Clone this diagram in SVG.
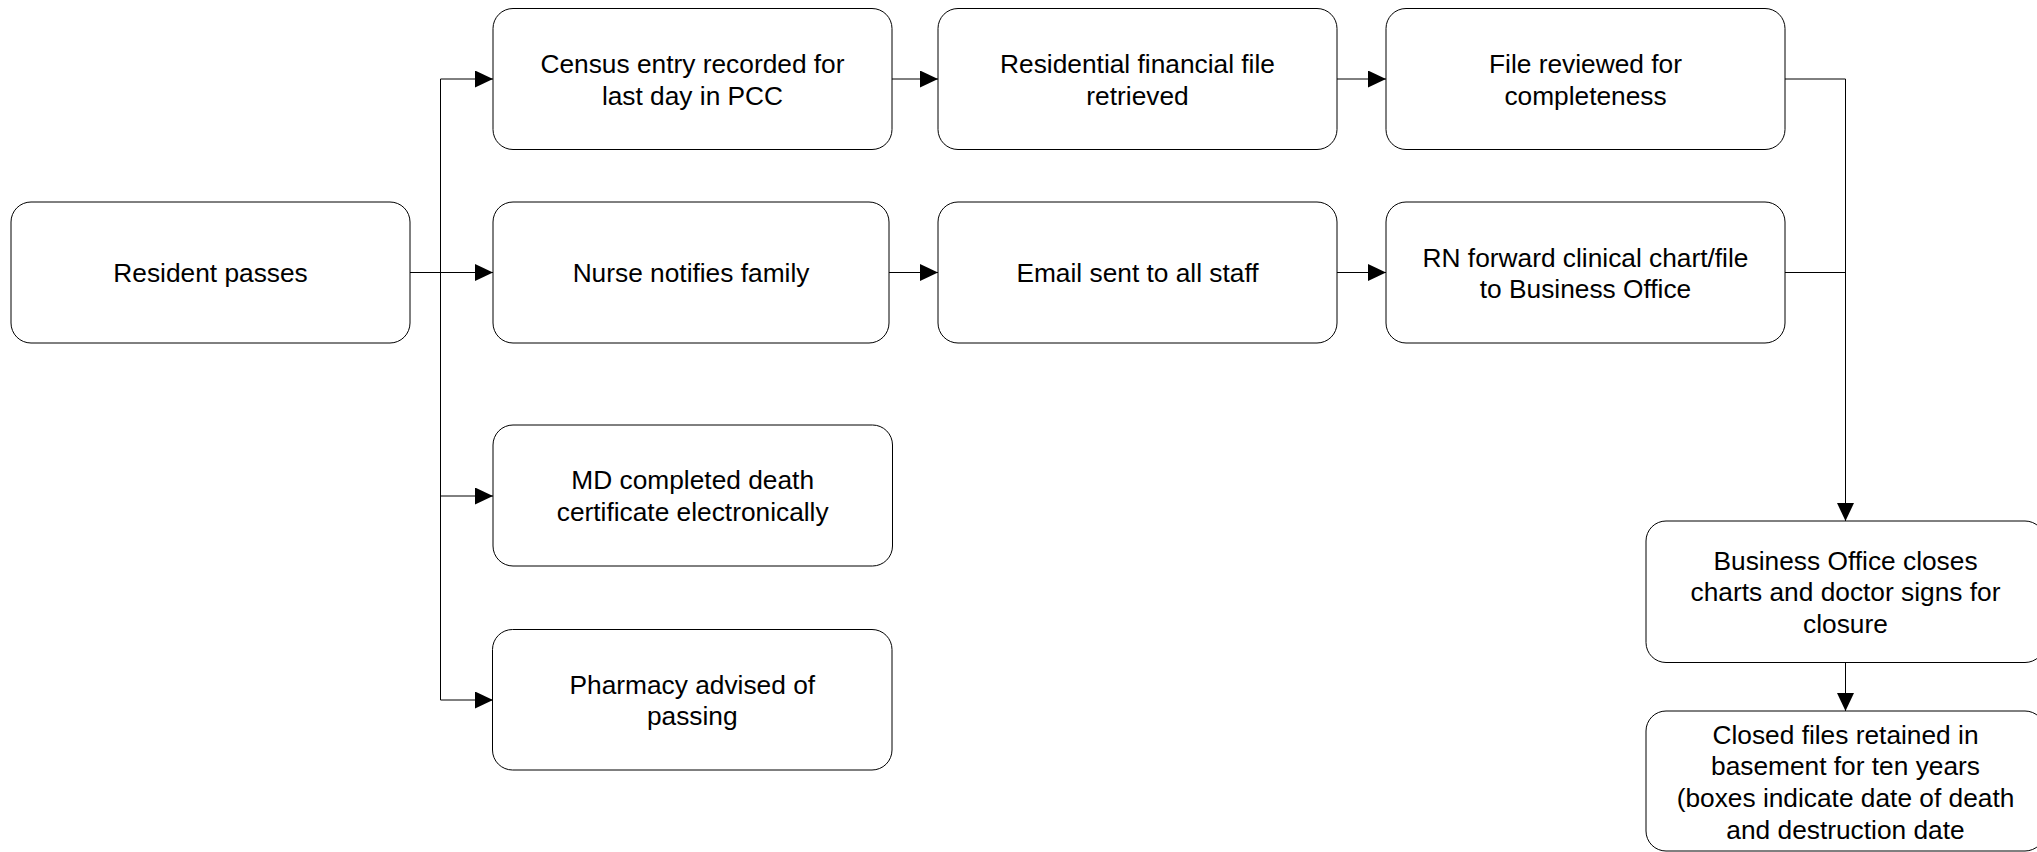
<svg xmlns="http://www.w3.org/2000/svg" width="2037" height="852" viewBox="0 0 2037 852">
<style>
.box{fill:#fff;stroke:#000;stroke-width:1}
.t{font-family:"Liberation Sans",Arial,sans-serif;font-size:26.3px;fill:#000;text-anchor:middle}
.c{fill:none;stroke:#000;stroke-width:1}
</style>
<defs>
<marker id="arr" markerUnits="userSpaceOnUse" markerWidth="18" markerHeight="18" refX="18" refY="8.5" orient="auto">
<path d="M0,0 L18,8.5 L0,17 z" fill="#000"/>
</marker>
</defs>
<rect width="2037" height="852" fill="#fff"/>
<g id="connectors">
<path class="c" d="M410,272.5 H493" marker-end="url(#arr)"/>
<path class="c" d="M440.5,272.5 V79 H493" marker-end="url(#arr)"/>
<path class="c" d="M440.5,272.5 V496 H493" marker-end="url(#arr)"/>
<path class="c" d="M440.5,272.5 V700 H493" marker-end="url(#arr)"/>
<path class="c" d="M892,79 H938" marker-end="url(#arr)"/>
<path class="c" d="M1337,79 H1386" marker-end="url(#arr)"/>
<path class="c" d="M889,272.5 H938" marker-end="url(#arr)"/>
<path class="c" d="M1337,272.5 H1386" marker-end="url(#arr)"/>
<path class="c" d="M1785,79 H1845.5 V521" marker-end="url(#arr)"/>
<path class="c" d="M1785,272.5 H1845.5"/>
<path class="c" d="M1845.5,662.5 V711" marker-end="url(#arr)"/>
</g>
<g id="resident">
<rect class="box" x="11" y="202" width="399" height="141" rx="20"/>
<text class="t" x="210.5" y="282.3">Resident passes</text>
</g>
<g id="census">
<rect class="box" x="493" y="8.5" width="399" height="141" rx="20"/>
<text class="t" x="692.5" y="72.8">Census entry recorded for</text>
<text class="t" x="692.5" y="104.5">last day in PCC</text>
</g>
<g id="nurse">
<rect class="box" x="493" y="202" width="396" height="141" rx="20"/>
<text class="t" x="691" y="282.3">Nurse notifies family</text>
</g>
<g id="md">
<rect class="box" x="493" y="425" width="399.5" height="141" rx="20"/>
<text class="t" x="692.7" y="489.3">MD completed death</text>
<text class="t" x="692.7" y="521">certificate electronically</text>
</g>
<g id="pharmacy">
<rect class="box" x="492.5" y="629.5" width="399.5" height="140.5" rx="20"/>
<text class="t" x="692.3" y="693.5">Pharmacy advised of</text>
<text class="t" x="692.3" y="725.2">passing</text>
</g>
<g id="residential">
<rect class="box" x="938" y="8.5" width="399" height="141" rx="20"/>
<text class="t" x="1137.5" y="72.8">Residential financial file</text>
<text class="t" x="1137.5" y="104.5">retrieved</text>
</g>
<g id="email">
<rect class="box" x="938" y="202" width="399" height="141" rx="20"/>
<text class="t" x="1137.5" y="282.3">Email sent to all staff</text>
</g>
<g id="filereviewed">
<rect class="box" x="1386" y="8.5" width="399" height="141" rx="20"/>
<text class="t" x="1585.5" y="72.8">File reviewed for</text>
<text class="t" x="1585.5" y="104.5">completeness</text>
</g>
<g id="rn">
<rect class="box" x="1386" y="202" width="399" height="141" rx="20"/>
<text class="t" x="1585.5" y="266.5">RN forward clinical chart/file</text>
<text class="t" x="1585.5" y="298.2">to Business Office</text>
</g>
<g id="business">
<rect class="box" x="1646" y="521" width="399" height="141.5" rx="20"/>
<text class="t" x="1845.5" y="569.5">Business Office closes</text>
<text class="t" x="1845.5" y="601.2">charts and doctor signs for</text>
<text class="t" x="1845.5" y="632.9">closure</text>
</g>
<g id="closed">
<rect class="box" x="1646" y="711" width="399" height="140" rx="20"/>
<text class="t" x="1845.5" y="743.5">Closed files retained in</text>
<text class="t" x="1845.5" y="775.2">basement for ten years</text>
<text class="t" x="1845.5" y="806.9">(boxes indicate date of death</text>
<text class="t" x="1845.5" y="838.6">and destruction date</text>
</g>
</svg>
